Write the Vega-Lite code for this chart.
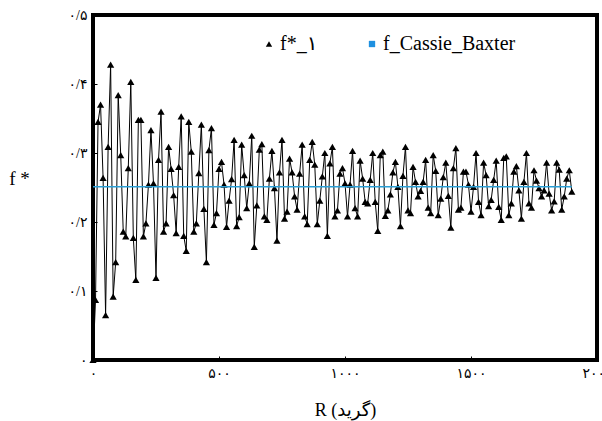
{
  "$schema": "https://vega.github.io/schema/vega-lite/v6.json",
  "width": 504,
  "height": 345,
  "autosize": {"type": "none"},
  "padding": {"left": 93, "top": 15, "right": 5, "bottom": 61},
  "background": "white",
  "view": {"stroke": "black", "strokeWidth": 4},
  "config": {"font": "Liberation Serif, DejaVu Sans"},
  "datasets": {
    "main": [
      {"R":0,"f":0.0},{"R":10,"f":0.087},{"R":20,"f":0.345},{"R":30,"f":0.37},{"R":40,"f":0.264},{"R":50,"f":0.065},{"R":60,"f":0.309},{"R":70,"f":0.428},{"R":80,"f":0.092},{"R":90,"f":0.142},
      {"R":100,"f":0.384},{"R":110,"f":0.297},{"R":120,"f":0.186},{"R":130,"f":0.179},{"R":140,"f":0.278},{"R":150,"f":0.403},{"R":160,"f":0.177},{"R":170,"f":0.116},{"R":180,"f":0.348},{"R":190,"f":0.348},
      {"R":200,"f":0.179},{"R":210,"f":0.198},{"R":220,"f":0.254},{"R":230,"f":0.333},{"R":240,"f":0.256},{"R":250,"f":0.119},{"R":260,"f":0.290},{"R":270,"f":0.36},{"R":280,"f":0.186},{"R":290,"f":0.198},
      {"R":300,"f":0.309},{"R":310,"f":0.277},{"R":320,"f":0.239},{"R":330,"f":0.184},{"R":340,"f":0.280},{"R":350,"f":0.353},{"R":360,"f":0.180},{"R":370,"f":0.158},{"R":380,"f":0.345},{"R":390,"f":0.302},
      {"R":400,"f":0.186},{"R":410,"f":0.198},{"R":420,"f":0.271},{"R":430,"f":0.341},{"R":440,"f":0.219},{"R":450,"f":0.142},{"R":460,"f":0.304},{"R":470,"f":0.336},{"R":480,"f":0.196},{"R":490,"f":0.213},
      {"R":500,"f":0.277},{"R":510,"f":0.287},{"R":520,"f":0.254},{"R":530,"f":0.193},{"R":540,"f":0.231},{"R":550,"f":0.262},{"R":560,"f":0.319},{"R":570,"f":0.194},{"R":580,"f":0.207},{"R":590,"f":0.312},
      {"R":600,"f":0.268},{"R":610,"f":0.220},{"R":620,"f":0.256},{"R":630,"f":0.325},{"R":640,"f":0.164},{"R":650,"f":0.224},{"R":660,"f":0.305},{"R":670,"f":0.313},{"R":680,"f":0.208},{"R":690,"f":0.203},
      {"R":700,"f":0.263},{"R":710,"f":0.303},{"R":720,"f":0.249},{"R":730,"f":0.173},{"R":740,"f":0.272},{"R":750,"f":0.319},{"R":760,"f":0.205},{"R":770,"f":0.215},{"R":780,"f":0.292},{"R":790,"f":0.272},
      {"R":800,"f":0.237},{"R":810,"f":0.218},{"R":820,"f":0.270},{"R":830,"f":0.312},{"R":840,"f":0.208},{"R":850,"f":0.197},{"R":860,"f":0.290},{"R":870,"f":0.316},{"R":880,"f":0.283},{"R":890,"f":0.197},
      {"R":900,"f":0.231},{"R":910,"f":0.266},{"R":920,"f":0.300},{"R":930,"f":0.180},{"R":940,"f":0.285},{"R":950,"f":0.309},{"R":960,"f":0.208},{"R":970,"f":0.217},{"R":980,"f":0.270},{"R":990,"f":0.278},
      {"R":1000,"f":0.256},{"R":1010,"f":0.208},{"R":1020,"f":0.254},{"R":1030,"f":0.303},{"R":1040,"f":0.220},{"R":1050,"f":0.208},{"R":1060,"f":0.289},{"R":1070,"f":0.263},{"R":1080,"f":0.229},{"R":1090,"f":0.227},
      {"R":1100,"f":0.261},{"R":1110,"f":0.300},{"R":1120,"f":0.229},{"R":1130,"f":0.187},{"R":1140,"f":0.297},{"R":1150,"f":0.302},{"R":1160,"f":0.209},{"R":1170,"f":0.217},{"R":1180,"f":0.240},{"R":1190,"f":0.272},
      {"R":1200,"f":0.287},{"R":1210,"f":0.251},{"R":1220,"f":0.194},{"R":1230,"f":0.267},{"R":1240,"f":0.309},{"R":1250,"f":0.217},{"R":1260,"f":0.213},{"R":1270,"f":0.280},{"R":1280,"f":0.258},{"R":1290,"f":0.237},
      {"R":1300,"f":0.245},{"R":1310,"f":0.258},{"R":1320,"f":0.290},{"R":1330,"f":0.221},{"R":1340,"f":0.213},{"R":1350,"f":0.297},{"R":1360,"f":0.274},{"R":1370,"f":0.210},{"R":1380,"f":0.234},{"R":1390,"f":0.265},
      {"R":1400,"f":0.286},{"R":1410,"f":0.238},{"R":1420,"f":0.192},{"R":1430,"f":0.278},{"R":1440,"f":0.307},{"R":1450,"f":0.218},{"R":1460,"f":0.221},{"R":1470,"f":0.273},{"R":1480,"f":0.273},{"R":1490,"f":0.254},
      {"R":1500,"f":0.215},{"R":1510,"f":0.251},{"R":1520,"f":0.300},{"R":1530,"f":0.229},{"R":1540,"f":0.210},{"R":1550,"f":0.286},{"R":1560,"f":0.268},{"R":1570,"f":0.223},{"R":1580,"f":0.232},{"R":1590,"f":0.261},
      {"R":1600,"f":0.289},{"R":1610,"f":0.222},{"R":1620,"f":0.203},{"R":1630,"f":0.293},{"R":1640,"f":0.295},{"R":1650,"f":0.210},{"R":1660,"f":0.227},{"R":1670,"f":0.273},{"R":1680,"f":0.281},{"R":1690,"f":0.246},
      {"R":1700,"f":0.205},{"R":1710,"f":0.258},{"R":1720,"f":0.300},{"R":1730,"f":0.227},{"R":1740,"f":0.221},{"R":1750,"f":0.275},{"R":1760,"f":0.260},{"R":1770,"f":0.249},{"R":1780,"f":0.237},{"R":1790,"f":0.246},
      {"R":1800,"f":0.286},{"R":1810,"f":0.241},{"R":1820,"f":0.217},{"R":1830,"f":0.230},{"R":1840,"f":0.286},{"R":1850,"f":0.276},{"R":1860,"f":0.218},{"R":1870,"f":0.237},{"R":1880,"f":0.263},{"R":1890,"f":0.275},
      {"R":1900,"f":0.244}
    ],
    "cb": [
      {"R":0,"cb":0.251},{"R":1900,"cb":0.251}
    ]
  },
  "encoding": {
    "x": {
      "field": "R", "type": "quantitative",
      "scale": {"domain": [0, 2000], "nice": false, "zero": false},
      "axis": {
        "values": [0, 500, 1000, 1500, 2000],
        "domain": false, "grid": false,
        "tickSize": -4, "tickColor": "black", "tickWidth": 1,
        "labelPadding": 10, "labelFontSize": 14, "labelColor": "black",
        "labelFont": "Liberation Serif, DejaVu Sans",
        "labelFlush": false, "labelOverlap": false,
        "labelExpr": "datum.value == 0 ? '۰' : datum.value == 500 ? '۵۰۰' : datum.value == 1000 ? '۱۰۰۰' : datum.value == 1500 ? '۱۵۰۰' : '۲۰۰۰'",
        "title": "R (گرید)",
        "titleFont": "Liberation Serif, DejaVu Sans", "titleFontSize": 18, "titleFontWeight": "normal", "titleColor": "black",
        "titleX": 252, "titleY": 50, "titleBaseline": "middle", "titleAlign": "center"
      }
    },
    "y": {
      "type": "quantitative",
      "scale": {"domain": [0, 0.5], "nice": false, "zero": false},
      "axis": {
        "values": [0, 0.1, 0.2, 0.3, 0.4, 0.5],
        "domain": false, "grid": false,
        "tickSize": -4, "tickColor": "black", "tickWidth": 1,
        "labelPadding": 10, "labelFontSize": 14, "labelColor": "black",
        "labelFont": "Liberation Serif, DejaVu Sans",
        "labelFlush": false, "labelOverlap": false,
        "labelExpr": "datum.value == 0 ? '۰' : '۰/' + substring('۰۱۲۳۴۵', round(datum.value * 10), round(datum.value * 10) + 1)",
        "title": "f *",
        "titleFont": "Liberation Serif, DejaVu Sans", "titleFontSize": 19, "titleFontWeight": "normal", "titleColor": "black",
        "titleAngle": 0, "titleX": -74, "titleY": 163, "titleBaseline": "middle", "titleAlign": "center"
      }
    }
  },
  "layer": [
    {
      "data": {"name": "main"},
      "mark": {"type": "line", "color": "black", "strokeWidth": 1},
      "encoding": {"y": {"field": "f"}}
    },
    {
      "data": {"name": "main"},
      "mark": {"type": "point", "filled": true, "opacity": 1, "size": 52},
      "encoding": {
        "y": {"field": "f"},
        "color": {
          "datum": "f*_۱",
          "scale": {"domain": ["f*_۱", "f_Cassie_Baxter"], "range": ["black", "#1e90e0"]},
          "legend": {
            "title": null, "orient": "none", "direction": "horizontal",
            "legendX": 166, "legendY": 19,
            "labelFont": "Liberation Serif, DejaVu Sans", "labelFontSize": 20, "labelColor": "black",
            "symbolSize": 40, "symbolStrokeWidth": 0, "columnPadding": 44, "labelOffset": 1
          }
        },
        "shape": {
          "datum": "f*_۱",
          "scale": {"domain": ["f*_۱", "f_Cassie_Baxter"], "range": ["triangle-up", "square"]},
          "legend": {
            "title": null, "orient": "none", "direction": "horizontal",
            "legendX": 166, "legendY": 19,
            "labelFont": "Liberation Serif, DejaVu Sans", "labelFontSize": 20, "labelColor": "black",
            "symbolSize": 40, "symbolStrokeWidth": 0, "columnPadding": 44, "labelOffset": 1
          }
        }
      }
    },
    {
      "data": {"name": "cb"},
      "mark": {"type": "line", "color": "#2a9fd6", "strokeWidth": 1.5},
      "encoding": {"y": {"field": "cb"}}
    }
  ]
}
